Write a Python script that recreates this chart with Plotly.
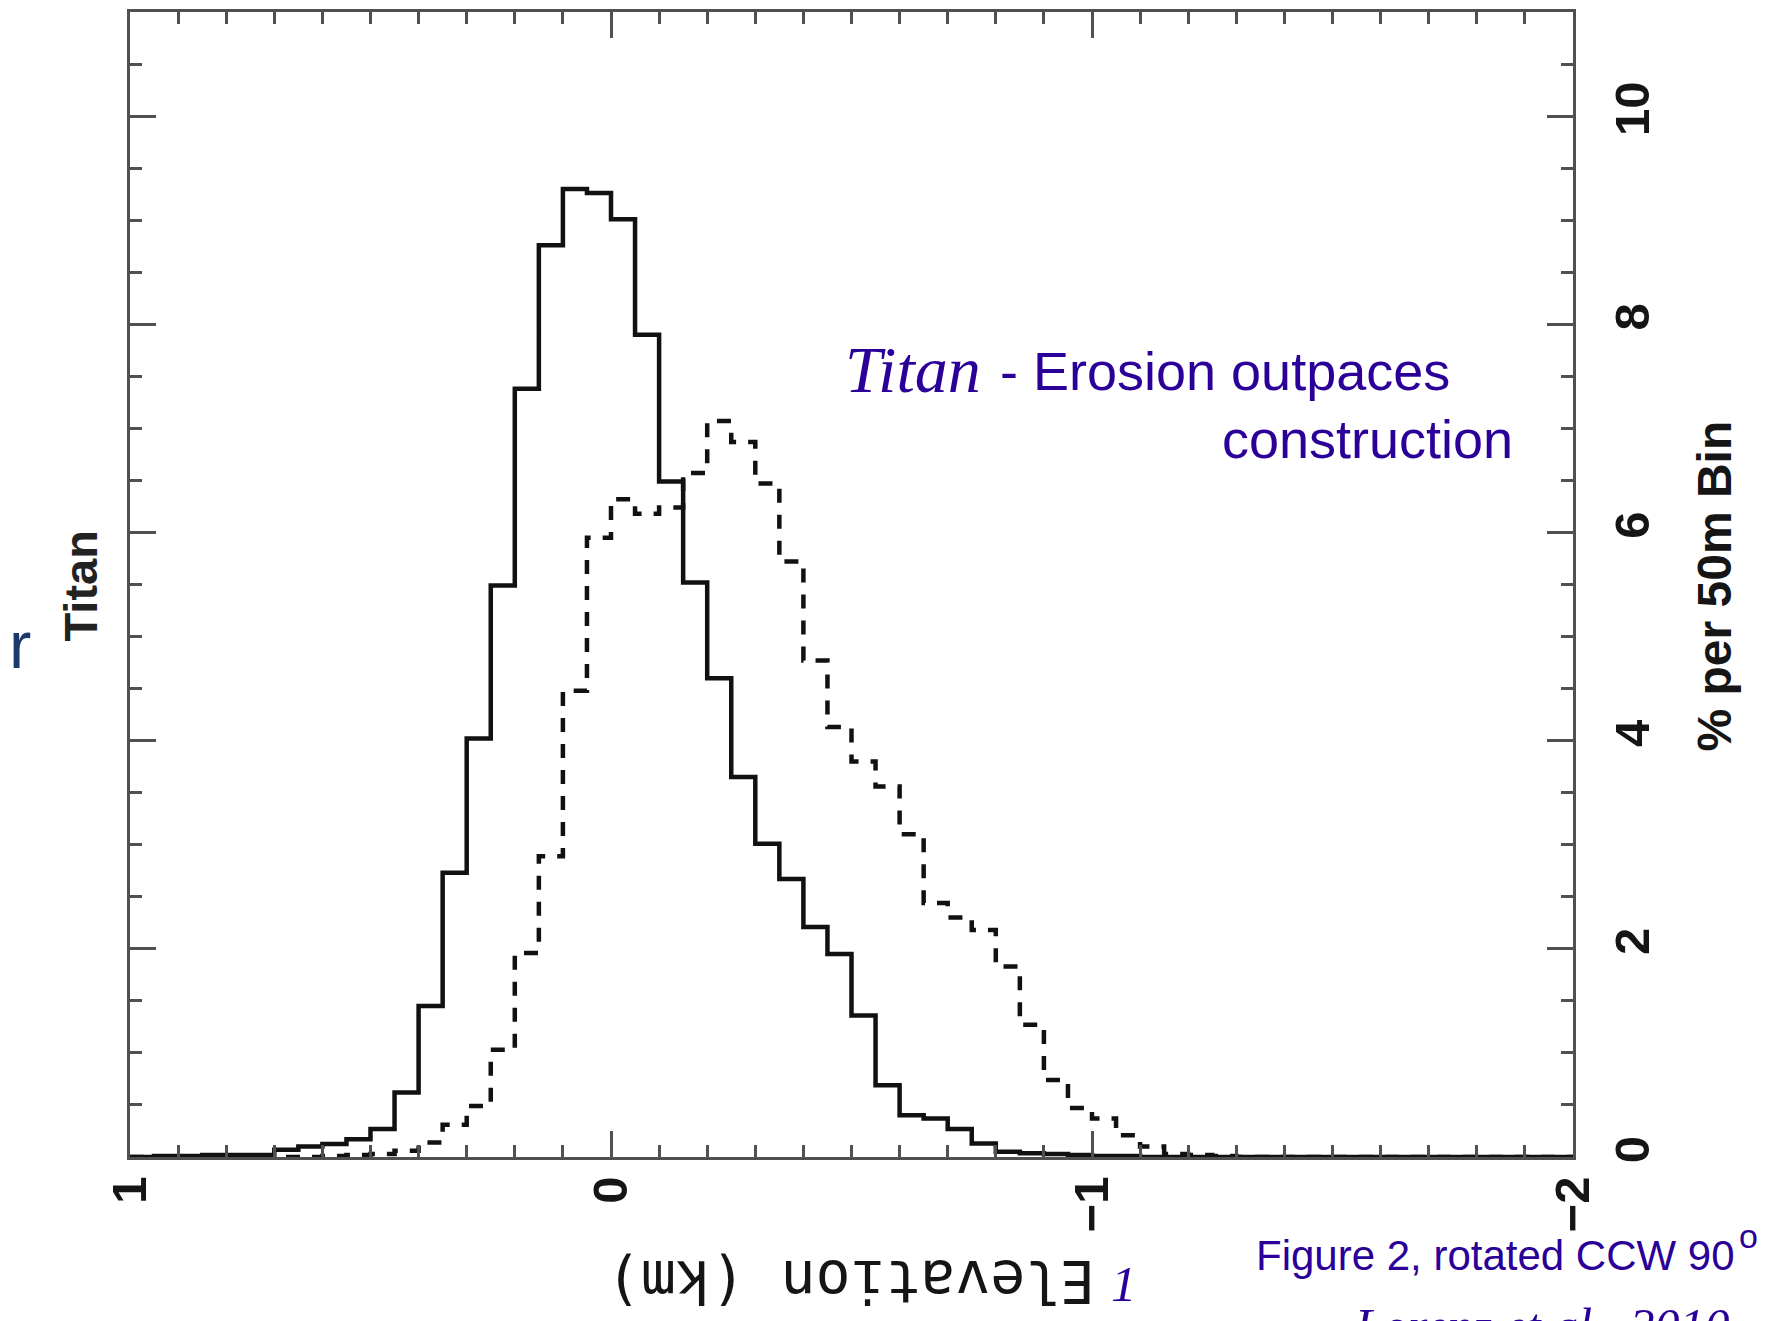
import plotly.graph_objects as go

# ---------------- data ----------------
# upper edge (km) of each 50 m elevation bin, left to right (axis reversed: 1 -> -2)
BIN_START_KM = [round(1.0 - 0.05 * i, 2) for i in range(60)]
BIN_END_KM = -2.0

# solid histogram, % per 50 m bin
SOLID_PCT = [
    0.00, 0.01, 0.01, 0.02, 0.02, 0.02, 0.07, 0.10, 0.125, 0.17,
    0.27, 0.62, 1.45, 2.73, 4.02, 5.49, 7.38, 8.76, 9.30, 9.26,
    9.01, 7.90, 6.49, 5.52, 4.60, 3.65, 3.01, 2.67, 2.21, 1.95,
    1.36, 0.69, 0.40, 0.37, 0.27, 0.13, 0.05, 0.035, 0.03, 0.02,
    0.01, 0.01, 0.00, 0.00, 0.00, 0.00, 0.00, 0.00, 0.00, 0.00,
    0.00, 0.00, 0.00, 0.00, 0.00, 0.00, 0.00, 0.00, 0.00, 0.00,
]
# dashed histogram, % per 50 m bin
DASHED_PCT = [
    0.00, 0.00, 0.00, 0.00, 0.00, 0.00, 0.00, 0.00, 0.01, 0.02,
    0.03, 0.06, 0.14, 0.31, 0.49, 1.03, 1.96, 2.89, 4.48, 5.95,
    6.32, 6.18, 6.24, 6.57, 7.07, 6.87, 6.47, 5.72, 4.77, 4.13,
    3.80, 3.56, 3.10, 2.44, 2.30, 2.18, 1.83, 1.27, 0.74, 0.47,
    0.37, 0.21, 0.10, 0.03, 0.02, 0.01, 0.00, 0.00, 0.00, 0.00,
    0.00, 0.00, 0.00, 0.00, 0.00, 0.00, 0.00, 0.00, 0.00, 0.00,
]

X_TICKS = [1, 0, -1, -2]
X_TICK_TEXT = ["1", "0", "\u22121", "\u22122"]
Y_TICKS = [0, 2, 4, 6, 8, 10]
Y_TICK_TEXT = ["0", "2", "4", "6", "8", "10"]

# ---------------- layout geometry ----------------
W, H = 1771, 1321
L, R, T, B = 130, 198, 9, 164
PW, PH = W - L - R, H - T - B


def px(x):
    return (x - L) / PW


def py(y):
    return (H - B - y) / PH


SANS = "Liberation Sans, Arial, sans-serif"
SERIF = "Liberation Serif, Times New Roman, serif"
MONO = "DejaVu Sans Mono, monospace"
INDIGO = "#2a0099"
FRAME = "#505050"
INK = "#151515"

xs = BIN_START_KM + [BIN_END_KM]

fig = go.Figure()
fig.add_trace(go.Scatter(
    x=xs, y=SOLID_PCT + [SOLID_PCT[-1]], mode="lines", line_shape="hv",
    line=dict(color="#111111", width=4.5), showlegend=False, hoverinfo="skip"))
fig.add_trace(go.Scatter(
    x=xs, y=DASHED_PCT + [DASHED_PCT[-1]], mode="lines", line_shape="hv",
    line=dict(color="#111111", width=4.5, dash="14px,12px"),
    showlegend=False, hoverinfo="skip"))

axis_common = dict(
    showline=True, linecolor=FRAME, linewidth=3, mirror="allticks",
    ticks="inside", tickcolor=FRAME, tickwidth=3, ticklen=26,
    showgrid=False, zeroline=False, tickangle=-90,
    tickfont=dict(family=SANS, size=49, color=INK, weight="bold"),
)

fig.update_xaxes(
    range=[1, -2], tickmode="array", tickvals=X_TICKS, ticktext=X_TICK_TEXT,
    side="bottom", ticklabelstandoff=-3,
    minor=dict(dtick=0.1, ticks="inside", ticklen=12, tickwidth=3,
               tickcolor=FRAME, showgrid=False),
    **axis_common)
fig.update_yaxes(
    range=[0, 11], tickmode="array", tickvals=Y_TICKS, ticktext=Y_TICK_TEXT,
    side="right", ticklabelstandoff=14,
    minor=dict(dtick=0.5, ticks="inside", ticklen=12, tickwidth=3,
               tickcolor=FRAME, showgrid=False),
    **axis_common)

ann = []
# right axis title
ann.append(dict(text="% per 50m Bin", x=px(1714), y=py(585), textangle=-90,
                font=dict(family=SANS, size=48, color=INK, weight="bold")))
# upside-down x axis title
ann.append(dict(text="Elevation (km)", x=px(851), y=py(1282), textangle=180,
                font=dict(family=MONO, size=58, color=INK)))
# left "Titan"
ann.append(dict(text="Titan", x=px(80), y=py(585), textangle=-90,
                font=dict(family=SANS, size=47, color="#222222", weight="bold")))
# cut-off slide letter
ann.append(dict(text="r", x=px(20), y=py(669 + 0.21 * 67), xanchor="center",
                yanchor="bottom", font=dict(family=SANS, size=67, color="#1b3a6b")))
# headline
ann.append(dict(text="<i>Titan</i>", x=px(843), y=py(392 + 0.22 * 66),
                xanchor="left", yanchor="bottom",
                font=dict(family=SERIF, size=66, color=INDIGO)))
ann.append(dict(text="- Erosion outpaces", x=px(998), y=py(390 + 0.21 * 54),
                xanchor="left", yanchor="bottom",
                font=dict(family=SANS, size=54, color=INDIGO)))
ann.append(dict(text="construction", x=px(1220), y=py(458 + 0.21 * 54),
                xanchor="left", yanchor="bottom",
                font=dict(family=SANS, size=54, color=INDIGO)))
# footnote marker
ann.append(dict(text="<i>1</i>", x=px(1124), y=py(1303 + 0.22 * 51),
                xanchor="center", yanchor="bottom",
                font=dict(family=SERIF, size=51, color=INDIGO)))
# figure caption
ann.append(dict(text="Figure 2, rotated CCW 90", x=px(1254),
                y=py(1273 + 0.21 * 42), xanchor="left", yanchor="bottom",
                font=dict(family=SANS, size=42, color=INDIGO)))
ann.append(dict(text="o", x=px(1748), y=py(1236),
                xanchor="center", yanchor="middle",
                font=dict(family=SANS, size=34, color=INDIGO)))
ann.append(dict(text="<i>Lorenz et al., 2010</i>", x=px(1352),
                y=py(1309 - 0.25 * 50), xanchor="left", yanchor="top",
                font=dict(family=SERIF, size=50, color=INDIGO)))

for a in ann:
    a.setdefault("xanchor", "center")
    a.setdefault("yanchor", "middle")
    a.update(xref="paper", yref="paper", showarrow=False)

fig.update_layout(
    width=W, height=H, margin=dict(l=L, r=R, t=T, b=B),
    paper_bgcolor="white", plot_bgcolor="white", annotations=ann,
    showlegend=False,
)

fig.write_html("out.html", config={"displayModeBar": False})
